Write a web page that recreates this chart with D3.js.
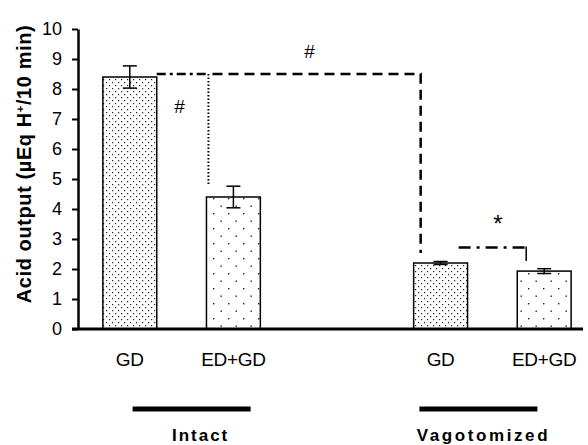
<!DOCTYPE html>
<html>
<head>
<meta charset="utf-8">
<script src="https://cdn.jsdelivr.net/npm/d3@7"></script>
<style>
  body { margin: 0; background: #fff; }
  svg text { font-family: "Liberation Sans", Arial, sans-serif; fill: #000; }
</style>
</head>
<body>
<div id="chart"></div>
<script>
// bar slots (the middle one is an empty gap between the groups)
var slots = ["intactGD", "intactEDGD", "gap", "vagGD", "vagEDGD"];
var barSlots = ["intactGD", "intactEDGD", "vagGD", "vagEDGD"];
var barLabels = ["GD", "ED+GD", "GD", "ED+GD"];
var barMeans = [8.4, 4.4, 2.2, 1.93];
var barErrors = [0.37, 0.36, 0.05, 0.08];
var barFills = ["dense", "sparse", "dense", "sparse"];
var groupNames = ["Intact", "Vagotomized"];
var groupSlots = [["intactGD", "intactEDGD"], ["vagGD", "vagEDGD"]];
var yTicks = [0, 1, 2, 3, 4, 5, 6, 7, 8, 9, 10];

var width = 588, height = 445;
var svg = d3.select("#chart").append("svg")
  .attr("width", width)
  .attr("height", height);

var x = d3.scaleBand()
  .domain(slots)
  .range([78, 596])
  .paddingInner(0.48)
  .paddingOuter(0.24);

var y = d3.scaleLinear()
  .domain([0, 10])
  .range([329, 29]);

// dot patterns
var defs = svg.append("defs");
var dense = defs.append("pattern")
  .attr("id", "dense")
  .attr("patternUnits", "userSpaceOnUse")
  .attr("width", 6).attr("height", 6);
dense.append("rect").attr("width", 6).attr("height", 6).attr("fill", "#fff");
dense.append("rect").attr("x", 1).attr("y", 1).attr("width", 1.2).attr("height", 1.2).attr("fill", "#222");
dense.append("rect").attr("x", 4).attr("y", 4).attr("width", 1.2).attr("height", 1.2).attr("fill", "#222");

var sparse = defs.append("pattern")
  .attr("id", "sparse")
  .attr("patternUnits", "userSpaceOnUse")
  .attr("width", 15).attr("height", 15);
sparse.append("rect").attr("width", 15).attr("height", 15).attr("fill", "#fff");
sparse.append("rect").attr("x", 3).attr("y", 3).attr("width", 1.4).attr("height", 1.4).attr("fill", "#222");
sparse.append("rect").attr("x", 10.5).attr("y", 10.5).attr("width", 1.4).attr("height", 1.4).attr("fill", "#222");

// bars
svg.selectAll(".bar")
  .data(barMeans)
  .enter().append("rect")
  .attr("class", "bar")
  .attr("x", function (d, i) { return x(barSlots[i]); })
  .attr("y", function (d) { return y(d); })
  .attr("width", x.bandwidth())
  .attr("height", function (d) { return y(0) - y(d); })
  .attr("fill", function (d, i) { return "url(#" + barFills[i] + ")"; })
  .attr("stroke", "#000")
  .attr("stroke-width", 1.5);

// error bars
var errG = svg.selectAll(".err")
  .data(barMeans)
  .enter().append("g")
  .attr("class", "err")
  .attr("stroke", "#000")
  .attr("stroke-width", 1.5);
errG.append("line")
  .attr("x1", function (d, i) { return x(barSlots[i]) + x.bandwidth() / 2; })
  .attr("x2", function (d, i) { return x(barSlots[i]) + x.bandwidth() / 2; })
  .attr("y1", function (d, i) { return y(d + barErrors[i]); })
  .attr("y2", function (d, i) { return y(d - barErrors[i]); });
[1, -1].forEach(function (s) {
  errG.append("line")
    .attr("x1", function (d, i) { return x(barSlots[i]) + x.bandwidth() / 2 - 7; })
    .attr("x2", function (d, i) { return x(barSlots[i]) + x.bandwidth() / 2 + 7; })
    .attr("y1", function (d, i) { return y(d + s * barErrors[i]); })
    .attr("y2", function (d, i) { return y(d + s * barErrors[i]); });
});

// y axis
var yAxis = d3.axisLeft(y).tickValues(yTicks).tickSize(6).tickSizeOuter(0);
var yg = svg.append("g")
  .attr("transform", "translate(" + x.range()[0] + ",0)")
  .call(yAxis);
yg.select(".domain").attr("stroke-width", 2.5);
yg.selectAll(".tick line").attr("stroke-width", 2);
yg.selectAll(".tick text")
  .attr("x", -16)
  .style("font-size", "18px");

// x baseline
svg.append("line")
  .attr("x1", x.range()[0] - 6)
  .attr("x2", 583)
  .attr("y1", y(0))
  .attr("y2", y(0))
  .attr("stroke", "#000")
  .attr("stroke-width", 3);

// y title
svg.append("text")
  .attr("transform", "translate(31," + y(5.5) + ") rotate(-90)")
  .attr("text-anchor", "middle")
  .style("font-size", "20px")
  .style("font-weight", "bold")
  .style("letter-spacing", "0.6px")
  .html("Acid output (µEq H<tspan dy='-7' font-size='11px'>+</tspan><tspan dy='7'>/10 min)</tspan>");

// bar labels
svg.selectAll(".blabel")
  .data(barLabels)
  .enter().append("text")
  .attr("class", "blabel")
  .attr("x", function (d, i) { return x(barSlots[i]) + x.bandwidth() / 2; })
  .attr("y", 366)
  .attr("text-anchor", "middle")
  .style("font-size", "19px")
  .style("letter-spacing", "-0.3px")
  .text(function (d) { return d; });

// group lines + labels (lines and labels sit a little off the group centres)
var groupSpacing = [2, 2.6];
var lineShift = [10, -14];
var textShift = [19, -9];
groupNames.forEach(function (g, i) {
  var c = (x(groupSlots[i][0]) + x(groupSlots[i][1]) + x.bandwidth()) / 2;
  svg.append("line")
    .attr("x1", c + lineShift[i] - 59).attr("x2", c + lineShift[i] + 59)
    .attr("y1", 409).attr("y2", 409)
    .attr("stroke", "#000")
    .attr("stroke-width", 5);
  svg.append("text")
    .attr("x", c + textShift[i])
    .attr("y", 441)
    .attr("text-anchor", "middle")
    .style("font-size", "17px")
    .style("font-weight", "bold")
    .style("letter-spacing", groupSpacing[i] + "px")
    .text(g);
});

// significance annotations
var topLevel = 8.5, dotBottom = 4.83, dashBottom = 2.53, smallLevel = 2.72, smallBottom = 2.27;
var xR1 = x("intactGD") + x.bandwidth();
var xDot = x("intactEDGD") + 2;
var xDash = x("vagGD") + 7;
var xS1 = x("vagGD") + x.bandwidth() / 2 + 18;
var xS2 = x("vagEDGD") + x.bandwidth() / 2 - 19;

svg.append("line")
  .attr("x1", xR1).attr("x2", xDot)
  .attr("y1", y(topLevel)).attr("y2", y(topLevel))
  .attr("stroke", "#000").attr("stroke-width", 2.5)
  .attr("stroke-dasharray", "9,4,3,4");
svg.append("path")
  .attr("d", d3.line()([[xDot + 4, y(topLevel)], [xDash, y(topLevel)], [xDash, y(dashBottom)]]))
  .attr("fill", "none")
  .attr("stroke", "#000").attr("stroke-width", 2.5)
  .attr("stroke-dasharray", "10,6");
svg.append("line")
  .attr("x1", xDot).attr("x2", xDot)
  .attr("y1", y(topLevel)).attr("y2", y(dotBottom))
  .attr("stroke", "#000").attr("stroke-width", 2)
  .attr("stroke-dasharray", "1.5,2");
svg.append("line")
  .attr("x1", xS1).attr("x2", xS2)
  .attr("y1", y(smallLevel)).attr("y2", y(smallLevel))
  .attr("stroke", "#000").attr("stroke-width", 2.5)
  .attr("stroke-dasharray", "12,6,3,6");
svg.append("line")
  .attr("x1", xS2 + 1).attr("x2", xS2 + 1)
  .attr("y1", y(smallLevel) - 1).attr("y2", y(smallBottom))
  .attr("stroke", "#000").attr("stroke-width", 1.5);

svg.append("text").attr("x", (xR1 + xDot) / 2 - 3).attr("y", y(7.2))
  .attr("text-anchor", "middle").style("font-size", "19px").text("#");
svg.append("text").attr("x", (xDot + xDash) / 2 - 5).attr("y", y(9.03))
  .attr("text-anchor", "middle").style("font-size", "19px").text("#");
svg.append("text").attr("x", (xS1 + xS2) / 2 + 6).attr("y", y(3.23))
  .attr("text-anchor", "middle").style("font-size", "24px").text("*");
</script>
</body>
</html>
